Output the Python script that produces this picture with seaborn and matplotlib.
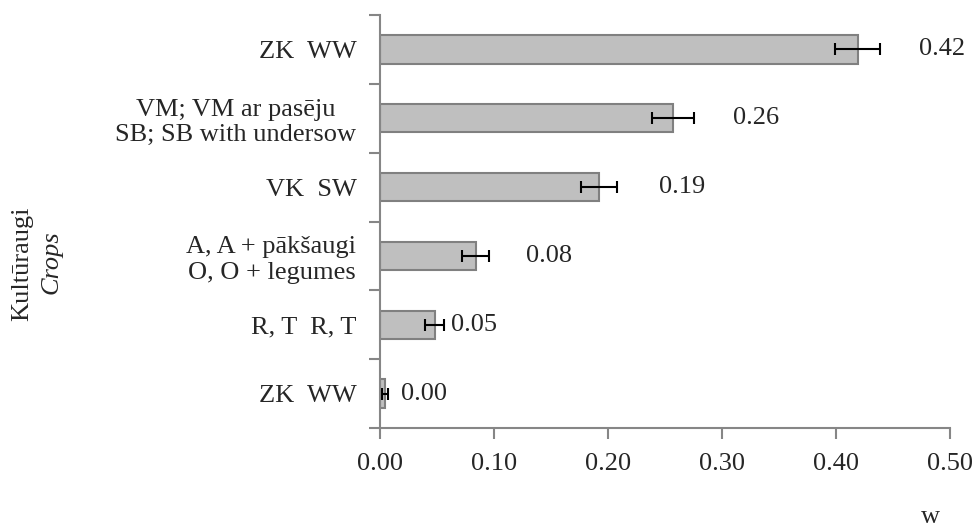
import matplotlib
matplotlib.use("Agg")
import matplotlib.pyplot as plt
import seaborn as sns
import numpy as np
import pandas as pd
from matplotlib.ticker import FixedLocator

# ---- data ----
crop_labels = ["ZK  WW", "VM; VM ar pasēju\nSB; SB with undersow", "VK  SW",
               "A, A + pākšaugi\nO, O + legumes", "R, T  R, T", "ZK  WW"]
w_values = [0.419, 0.257, 0.192, 0.084, 0.048, 0.0045]
w_errors = [0.020, 0.018, 0.016, 0.012, 0.0085, 0.0024]
label_x = [0.473, 0.310, 0.245, 0.128, 0.062, 0.018]
x_ticks = [0.0, 0.1, 0.2, 0.3, 0.4, 0.5]

sns.set_theme(style="white")
plt.rcParams['font.family'] = ['Liberation Serif', 'DejaVu Serif']

FS = 19
fig = plt.figure(figsize=(9.76, 5.27), dpi=100)
ax = fig.add_axes([380/976, 1-428/527, (950-380)/976, (428-15)/527])

keys = [str(i) for i in range(len(w_values))]
df = pd.DataFrame({"key": keys, "w": w_values})
sns.barplot(data=df, x="w", y="key", order=keys, orient="h", color="#BFBFBF",
            saturation=1, edgecolor="#808080", linewidth=1.5, width=0.41, ax=ax)

ax.errorbar(w_values, np.arange(len(w_values)), xerr=w_errors, fmt="none",
            ecolor="black", elinewidth=1.5, capsize=4.5, capthick=1.5)

for i, v in enumerate(w_values):
    ax.text(label_x[i], i, f"{v:.2f}", ha="left", va="center", fontsize=FS)

ax.set_xlim(0, 0.5)
ax.set_ylim(len(w_values) - 0.5, -0.5)
ax.set_xticks(x_ticks)
ax.set_xticklabels([f"{t:.2f}" for t in x_ticks], fontsize=FS)
ax.set_yticks(np.arange(len(w_values)))
ax.set_yticklabels(crop_labels, fontsize=FS, multialignment="center")
ax.yaxis.set_minor_locator(FixedLocator(np.arange(-0.5, len(w_values), 1.0)))
ax.tick_params(axis="y", which="major", length=0, pad=17)
ax.tick_params(axis="y", which="minor", length=8, width=1.5, color="#868686", direction="out", left=True)
ax.tick_params(axis="x", which="major", length=8, width=1.5, color="#868686", direction="out", bottom=True, pad=10)
ax.set_xlabel("")
ax.set_ylabel("")

for s in ["top", "right"]:
    ax.spines[s].set_visible(False)
for s in ["left", "bottom"]:
    ax.spines[s].set_color("#868686")
    ax.spines[s].set_linewidth(1.5)

fig.text(22/976, 1-264/527, "Kultūraugi", rotation=90, ha="center", va="center", fontsize=FS)
fig.text(52/976, 1-262/527, "Crops", rotation=90, ha="center", va="center", fontsize=FS, style="italic")
fig.text(930/976, 1-517/527, "w", ha="center", va="center", fontsize=FS)

fig.savefig("out.png", dpi=100)
